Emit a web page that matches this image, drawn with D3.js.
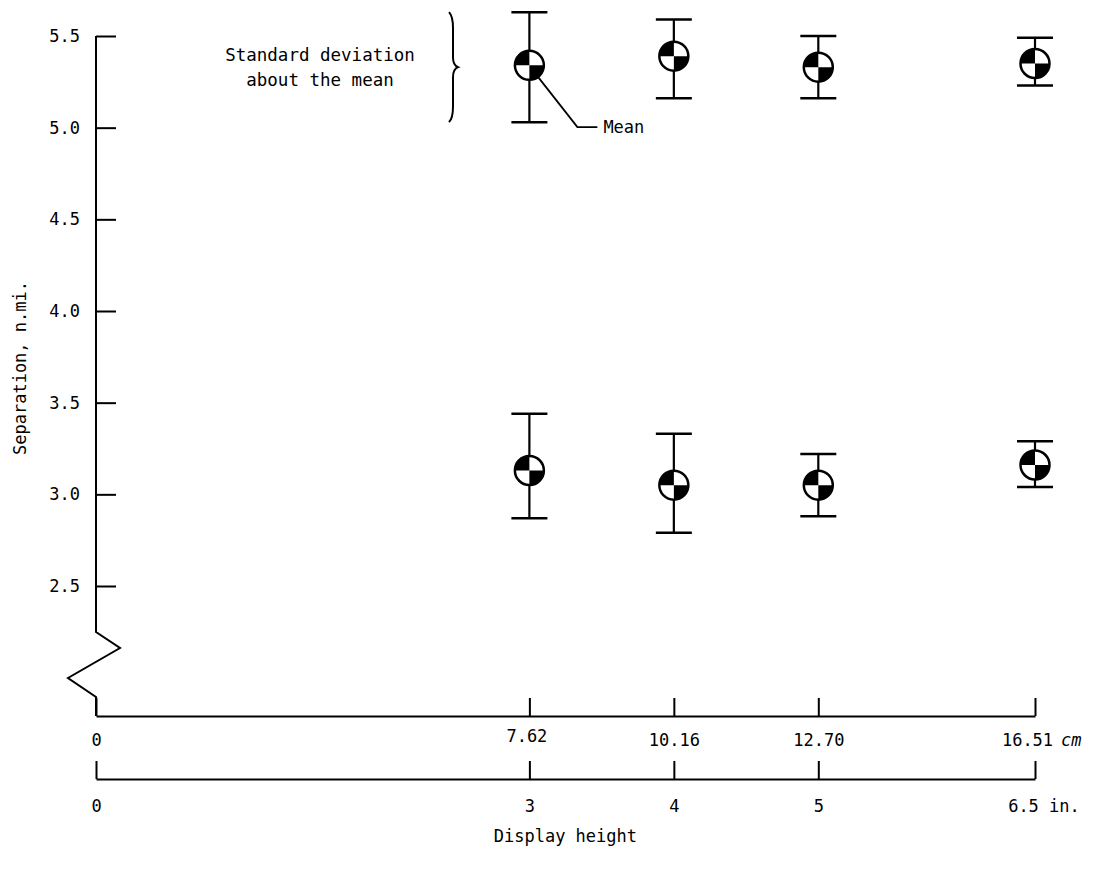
<!DOCTYPE html>
<html>
<head>
<meta charset="utf-8">
<script src="https://d3js.org/d3.v7.min.js"></script>
<style>
    body { margin: 0; background: white; }
    text { font-family: "DejaVu Sans Mono", monospace; fill: black; }
</style>
</head>
<body>
<svg width="1111" height="884"></svg>
<script>

const heightsCm = [7.62, 10.16, 12.70, 16.51];
const cmTicks = [0, 7.62, 10.16, 12.70, 16.51];
const inTicks = [0, 3, 4, 5, 6.5];
const yTicks = [2.5, 3.0, 3.5, 4.0, 4.5, 5.0, 5.5];

const upperMean = [5.34, 5.39, 5.33, 5.35];
const upperLow  = [5.03, 5.16, 5.16, 5.23];
const upperHigh = [5.63, 5.59, 5.50, 5.49];

const lowerMean = [3.13, 3.05, 3.05, 3.16];
const lowerLow  = [2.87, 2.79, 2.88, 3.04];
const lowerHigh = [3.44, 3.33, 3.22, 3.29];

var svg = d3.select("svg");

var x = d3.scaleLinear().domain([0, 16.51]).range([96, 1035]);
var xIn = d3.scaleLinear().domain([0, 6.5]).range([96, 1035]);
var y = d3.scaleLinear().domain([2.5, 5.5]).range([586, 36]);

var xAxisY = 716;
var inAxisY = 779;

// y axis, ticks pointing right, labels on the left
var gy = svg.append("g")
    .attr("transform", "translate(96,0)")
    .call(d3.axisLeft(y).tickValues(yTicks).tickFormat(d3.format(".1f"))
        .tickSizeInner(-20).tickSizeOuter(0).tickPadding(16));
gy.select(".domain").remove();
gy.selectAll("line").attr("stroke", "black").attr("stroke-width", 2);
gy.selectAll("text").style("font-size", "17px").attr("fill", "black");

// axis line with the break below 2.5
var y25 = y(2.5);
svg.append("path")
    .attr("d", d3.line()([
        [96, y(5.5)], [96, y25 + 46], [120, y25 + 62], [68, y25 + 92],
        [96, y25 + 111], [96, xAxisY]
    ]))
    .attr("fill", "none").attr("stroke", "black").attr("stroke-width", 2);

svg.append("text")
    .attr("transform", "translate(20,368) rotate(-90)")
    .attr("text-anchor", "middle")
    .attr("dy", "0.35em")
    .style("font-size", "17px")
    .text("Separation, n.mi.");

// cm axis
var gx = svg.append("g")
    .attr("transform", "translate(0," + xAxisY + ")")
    .call(d3.axisBottom(x).tickValues(cmTicks)
        .tickSizeInner(-18).tickSizeOuter(0).tickPadding(18));
gx.selectAll("text").text(d => d === 0 ? "0" : d3.format(".2f")(d))
    .style("font-size", "17px")
    .attr("dx", d => d === 16.51 ? "-8" : d === 7.62 ? "-3" : "0")
    .attr("y", d => d === 7.62 ? 14 : 18);
gx.selectAll("line, path").attr("stroke", "black").attr("stroke-width", 2);
svg.append("text")
    .attr("x", x(16.51) + 26).attr("y", xAxisY + 30)
    .style("font-size", "17px").style("font-style", "italic")
    .text("cm");

// inch axis
var gi = svg.append("g")
    .attr("transform", "translate(0," + inAxisY + ")")
    .call(d3.axisBottom(xIn).tickValues(inTicks).tickFormat(d => d === 6.5 ? "6.5" : d3.format("d")(d))
        .tickSizeInner(-18).tickSizeOuter(0).tickPadding(21));
gi.selectAll("text").style("font-size", "17px")
    .attr("dx", d => d === 6.5 ? "-12" : "0");
gi.selectAll("line, path").attr("stroke", "black").attr("stroke-width", 2);
svg.append("text")
    .attr("x", xIn(6.5) + 14).attr("y", inAxisY + 33)
    .style("font-size", "17px")
    .text("in.");

svg.append("text")
    .attr("x", x(7.62) + 36).attr("y", 842)
    .attr("text-anchor", "middle")
    .style("font-size", "17px")
    .text("Display height");

// error bars and mean symbols
var r = 14.5;
var arc = d3.arc().innerRadius(0).outerRadius(r);

function series(means, lows, highs) {
    var g = svg.append("g");
    heightsCm.forEach(function(h, i) {
        var cx = x(h);
        g.append("line")
            .attr("x1", cx).attr("x2", cx)
            .attr("y1", y(highs[i])).attr("y2", y(lows[i]))
            .attr("stroke", "black").attr("stroke-width", 2.2);
        [highs[i], lows[i]].forEach(function(v) {
            g.append("line")
                .attr("x1", cx - 18).attr("x2", cx + 18)
                .attr("y1", y(v)).attr("y2", y(v))
                .attr("stroke", "black").attr("stroke-width", 2.5);
        });
        var m = g.append("g").attr("transform", "translate(" + cx + "," + y(means[i]) + ")");
        m.append("circle").attr("r", r).attr("fill", "white");
        m.append("path").attr("d", arc({startAngle: 1.5 * Math.PI, endAngle: 2 * Math.PI})).attr("fill", "black");
        m.append("path").attr("d", arc({startAngle: 0.5 * Math.PI, endAngle: Math.PI})).attr("fill", "black");
        m.append("circle").attr("r", r).attr("fill", "none")
            .attr("stroke", "black").attr("stroke-width", 2.5);
    });
}
series(upperMean, upperLow, upperHigh);
series(lowerMean, lowerLow, lowerHigh);

// "Mean" leader
var mx = x(heightsCm[0]), my = y(upperMean[0]);
svg.append("path")
    .attr("d", d3.line()([[mx + 9, my + 12], [mx + 48, y(upperLow[0]) + 5], [mx + 68, y(upperLow[0]) + 5]]))
    .attr("fill", "none").attr("stroke", "black").attr("stroke-width", 1.8);
svg.append("text")
    .attr("x", mx + 74).attr("y", y(upperLow[0]) + 5)
    .attr("dy", "0.35em")
    .style("font-size", "17px")
    .text("Mean");

// brace and note
var bt = y(upperHigh[0]), bb = y(upperLow[0]), bm = (bt + bb) / 2, bx = 453;
svg.append("path")
    .attr("d", "M" + (bx - 4) + "," + bt +
        " Q" + bx + "," + (bt + 4) + " " + bx + "," + (bt + 16) +
        " L" + bx + "," + (bm - 10) +
        " Q" + bx + "," + (bm - 2) + " " + (bx + 5) + "," + bm +
        " Q" + bx + "," + (bm + 2) + " " + bx + "," + (bm + 10) +
        " L" + bx + "," + (bb - 16) +
        " Q" + bx + "," + (bb - 4) + " " + (bx - 4) + "," + bb)
    .attr("fill", "none").attr("stroke", "black").attr("stroke-width", 2);

svg.append("text")
    .attr("x", 320).attr("y", 55)
    .attr("text-anchor", "middle").attr("dy", "0.35em")
    .style("font-size", "17.5px")
    .text("Standard deviation");
svg.append("text")
    .attr("x", 320).attr("y", 80)
    .attr("text-anchor", "middle").attr("dy", "0.35em")
    .style("font-size", "17.5px")
    .text("about the mean");

</script>
</body>
</html>
